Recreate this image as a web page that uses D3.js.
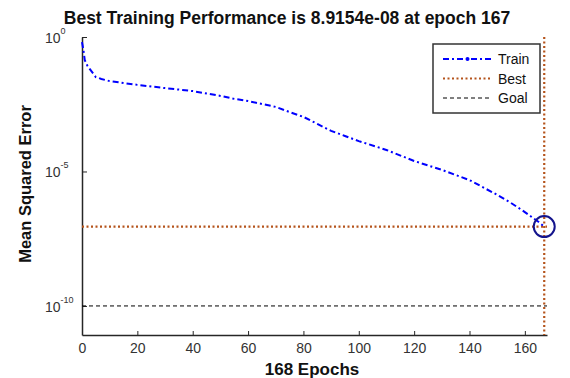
<!DOCTYPE html>
<html>
<head>
<meta charset="utf-8">
<script src="https://cdn.jsdelivr.net/npm/d3@7"></script>
<style>
  body { margin: 0; background: #fff; }
  text { font-family: "Liberation Sans", Arial, sans-serif; }
</style>
</head>
<body>
<div id="chart"></div>
<script>
// training curve (epoch, log10 of MSE)
const epochs = [0, 0.5, 1, 2, 5, 7, 10, 15, 20, 30, 40, 50, 55, 60, 70, 75, 80, 85, 90, 95, 100, 110, 120, 130, 140, 150, 155, 160, 165, 167]
const logMse = [-0.19, -0.48, -0.86, -1.08, -1.49, -1.56, -1.64, -1.71, -1.78, -1.90, -2.01, -2.19, -2.30, -2.38, -2.60, -2.79, -2.97, -3.23, -3.49, -3.68, -3.87, -4.20, -4.61, -4.94, -5.32, -5.87, -6.17, -6.51, -6.88, -7.05]
const bestEpoch = 167
const bestPerf = 8.9154e-8
const goal = 1e-10
const xTicks = [0, 20, 40, 60, 80, 100, 120, 140, 160]
const yTicks = [0, -5, -10]
const legendNames = ["Train", "Best", "Goal"]

const W = 570, H = 378
const svg = d3.select("#chart").append("svg")
  .attr("width", W)
  .attr("height", H)

const x = d3.scaleLinear().domain([0, 168]).range([82, 547])
const y = d3.scaleLog().domain([Math.pow(10, -11.08), 1]).range([335, 37])

const axisCol = "#262626"
const bestCol = "#b5541c"

// x axis (ticks point inward)
const xAxis = svg.append("g")
  .attr("transform", "translate(0,335)")
  .call(d3.axisBottom(x).tickValues(xTicks).tickSizeInner(-4).tickSizeOuter(0).tickPadding(8))
xAxis.select(".domain").attr("stroke", axisCol).attr("stroke-width", 1.5)
xAxis.selectAll(".tick line").attr("stroke", axisCol)
xAxis.selectAll(".tick text")
  .attr("font-size", 14)
  .attr("fill", "#333")
  .attr("font-family", "Liberation Sans, Arial, sans-serif")

// y axis
const yAxis = svg.append("g")
  .attr("transform", "translate(82,0)")
  .call(d3.axisLeft(y).tickValues(yTicks.map(e => Math.pow(10, e))).tickSizeInner(-5).tickSizeOuter(0).tickFormat(""))
yAxis.select(".domain").attr("stroke", axisCol).attr("stroke-width", 1.5)
yAxis.selectAll(".tick line").attr("stroke", axisCol)

yTicks.forEach(e => {
  const t = svg.append("text")
    .attr("x", 45)
    .attr("y", y(Math.pow(10, e)) + 6)
    .attr("font-size", 14)
    .attr("fill", "#333")
  t.append("tspan").text("10")
  t.append("tspan").attr("dy", -9).attr("font-size", 9).text(e)
})

// goal line
svg.append("line")
  .attr("x1", x(0)).attr("x2", x(168))
  .attr("y1", y(goal)).attr("y2", y(goal))
  .attr("stroke", "#000").attr("stroke-width", 1)
  .attr("stroke-dasharray", "4,3")

// best lines
svg.append("line")
  .attr("x1", x(0)).attr("x2", x(168))
  .attr("y1", y(bestPerf)).attr("y2", y(bestPerf))
  .attr("stroke", bestCol).attr("stroke-width", 2.2)
  .attr("stroke-dasharray", "2,2.5")
svg.append("line")
  .attr("x1", x(bestEpoch)).attr("x2", x(bestEpoch))
  .attr("y1", y.range()[1]).attr("y2", y.range()[0])
  .attr("stroke", bestCol).attr("stroke-width", 2.2)
  .attr("stroke-dasharray", "2,2.5")

// train curve
const pts = epochs.map((e, i) => ({ep: e, v: Math.pow(10, logMse[i])}))
const line = d3.line().x(d => x(d.ep)).y(d => y(d.v))
svg.append("path")
  .attr("d", line(pts))
  .attr("fill", "none")
  .attr("stroke", "#0000ff")
  .attr("stroke-width", 2)
  .attr("stroke-dasharray", "6,3,2,3")

// best point circle
svg.append("circle")
  .attr("cx", x(bestEpoch)).attr("cy", y(bestPerf))
  .attr("r", 10.5)
  .attr("fill", "none")
  .attr("stroke", "#14148c").attr("stroke-width", 2)

// legend
const lg = svg.append("g").attr("transform", "translate(433,44)")
lg.append("rect")
  .attr("width", 107).attr("height", 69)
  .attr("fill", "#fff").attr("stroke", "#333").attr("stroke-width", 1.5)
const styles = [
  {col: "#0000ff", w: 2, dash: "6,3,2,3"},
  {col: bestCol, w: 2.2, dash: "2,2.5"},
  {col: "#000", w: 1, dash: "4,3"}
]
legendNames.forEach((name, i) => {
  const yy = 15 + i * 19.5
  lg.append("line")
    .attr("x1", 10).attr("x2", 59)
    .attr("y1", yy).attr("y2", yy)
    .attr("stroke", styles[i].col).attr("stroke-width", styles[i].w)
    .attr("stroke-dasharray", styles[i].dash)
  if (i === 0) {
    lg.append("circle").attr("cx", 34.5).attr("cy", yy).attr("r", 2).attr("fill", "#0000ff")
  }
  lg.append("text")
    .attr("x", 65).attr("y", yy + 5)
    .attr("font-size", 14)
    .attr("fill", "#111")
    .text(name)
})

// title and labels
svg.append("text")
  .attr("x", 287).attr("y", 24)
  .attr("text-anchor", "middle")
  .attr("font-size", 17.5)
  .attr("font-weight", "bold")
  .attr("fill", "#111")
  .text("Best Training Performance is 8.9154e-08 at epoch 167")

svg.append("text")
  .attr("x", 312).attr("y", 375)
  .attr("text-anchor", "middle")
  .attr("font-size", 17)
  .attr("font-weight", "bold")
  .attr("fill", "#111")
  .text("168 Epochs")

svg.append("text")
  .attr("transform", "translate(31,184) rotate(-90)")
  .attr("text-anchor", "middle")
  .attr("font-size", 16.5)
  .attr("font-weight", "bold")
  .attr("fill", "#111")
  .text("Mean Squared Error")
</script>
</body>
</html>
